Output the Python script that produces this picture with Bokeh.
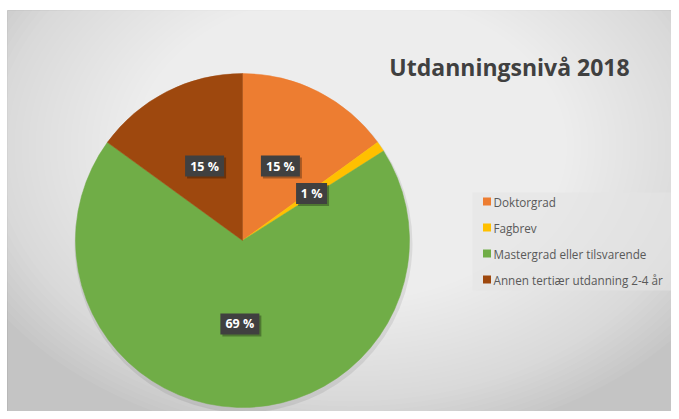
import math
from bokeh.plotting import figure
from bokeh.models import ColumnDataSource, Range1d
from bokeh.core.properties import value
from bokeh.embed import file_html
from bokeh.resources import INLINE

# ---- data ----
categories = ["Doktorgrad", "Fagbrev", "Mastergrad eller tilsvarende", "Annen tertiær utdanning 2-4 år"]
shares = [15, 1, 69, 15]
label_texts = ["15 %", "1 %", "69 %", "15 %"]
colors = ["#ED7D31", "#FFC000", "#70AD47", "#9E480E"]
title_text = "Utdanningsnivå 2018"

W, H = 671, 411
FONT = "Open Sans"

p = figure(width=W, height=H, x_range=Range1d(0, W), y_range=Range1d(0, H),
           x_axis_type=None, y_axis_type=None, output_backend="svg",
           toolbar_location=None, min_border=0)
p.grid.visible = False
p.outline_line_color = None
p.background_fill_color = "white"
p.border_fill_color = "white"

# chart area with radial gradient (decoration)
p.quad(left=[7], right=[W + 5], bottom=[-5], top=[H - 10], fill_color="#c4c4c4",
       line_color="#b8b8b8", line_width=1)
n = 60
gx, gy, grx, gry = 350, 265, 420, 300
ws, hs = [], []
for i in range(n):
    f = 1 - i / n
    ws.append(2 * grx * f)
    hs.append(2 * gry * f)
p.ellipse(x=[gx] * n, y=[gy] * n, width=ws, height=hs, fill_color="white",
          fill_alpha=0.05, line_color=None)
# keep the top/left margin white
p.quad(left=[-5], right=[W + 5], bottom=[H - 9.5], top=[H + 5], fill_color="white", line_color=None)
p.quad(left=[-5], right=[6.5], bottom=[-5], top=[H + 5], fill_color="white", line_color=None)

# pie
cx, cy, R = 242, 171, 167
total = sum(shares)
starts, ends, mids = [], [], []
cum = 0
for s in shares:
    a0 = math.pi / 2 - 2 * math.pi * cum / total
    cum += s
    a1 = math.pi / 2 - 2 * math.pi * cum / total
    starts.append(a0)
    ends.append(a1)
    mids.append((a0 + a1) / 2)

# soft shadow under the pie
p.circle(x=[cx + 1], y=[cy - 3], radius=R + 2, fill_color="black", fill_alpha=0.08, line_color=None)

src = ColumnDataSource(dict(start=starts, end=ends, color=colors, cat=categories))
p.wedge(x=cx, y=cy, radius=R, start_angle="start", end_angle="end",
        direction="clock", fill_color="color", line_color="color", line_width=0.5,
        source=src)

# data labels
lr = 0.5 * R
lx = [cx + lr * math.cos(m) for m in mids]
ly = [cy + lr * math.sin(m) for m in mids]
bw = [23 + 8 * sum(ch.isdigit() for ch in t) for t in label_texts]
lsrc = ColumnDataSource(dict(x=lx, y=ly, xs=[v + 2 for v in lx], ys=[v - 2 for v in ly],
                             w=bw, t=label_texts))
p.rect(x="xs", y="ys", width="w", height=21, width_units="screen", height_units="screen",
       fill_color="black", fill_alpha=0.3, line_color=None, source=lsrc)
p.rect(x="x", y="y", width="w", height=21, width_units="screen", height_units="screen",
       fill_color="#404040", line_color=None, source=lsrc)
p.text(x="x", y="y", text="t", text_color="white", text_font=value(FONT),
       text_font_size="12.5px", text_font_style="bold", text_align="center",
       text_baseline="middle", source=lsrc)

# title
p.text(x=[509], y=[345], text=[title_text], text_color="#404040", text_font=value(FONT),
       text_font_size="23px", text_font_style="bold", text_align="center",
       text_baseline="alphabetic")

# legend (manual)
lgx0, lgx1, lgy0, lgy1 = 472, 673, 121, 219
p.quad(left=[lgx0], right=[lgx1], bottom=[lgy0], top=[lgy1], fill_color="#e4e4e4",
       fill_alpha=0.6, line_color=None)
row_top, pitch = 210, 26
ry = [row_top - i * pitch for i in range(len(categories))]
gsrc = ColumnDataSource(dict(x=[486.5] * len(categories), y=ry, c=colors,
                             tx=[493] * len(categories), t=categories))
p.rect(x="x", y="y", width=8, height=8, width_units="screen", height_units="screen",
       fill_color="c", line_color=None, source=gsrc)
p.text(x="tx", y="y", text="t", text_color="#595959", text_font=value(FONT),
       text_font_size="11.7px", text_align="left", text_baseline="middle", source=gsrc)

open("out.html", "w").write(file_html(p, INLINE))
